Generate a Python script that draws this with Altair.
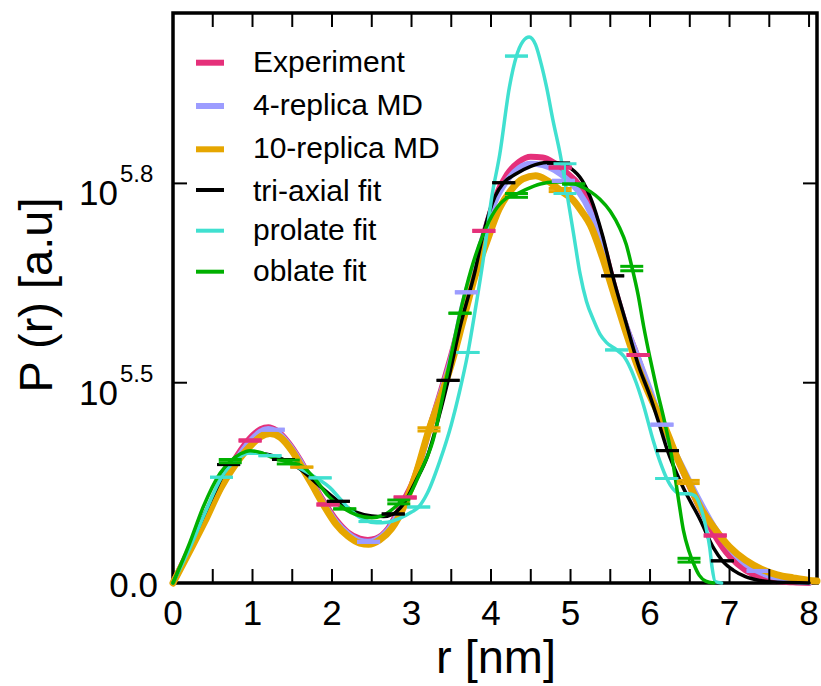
import altair as alt
import pandas as pd

# ---------------- data (y in units of 1e5 a.u.) ----------------
exp_x = [0, 0.2, 0.4, 0.6, 0.8, 1.0, 1.1, 1.2, 1.3, 1.45, 1.6, 1.75, 1.9, 2.05, 2.2, 2.35, 2.45, 2.55, 2.7, 2.85,
         2.92, 3.0, 3.1, 3.22, 3.35, 3.5, 3.65, 3.8, 3.91, 4.05, 4.2, 4.35, 4.5, 4.65, 4.8, 4.95, 5.1, 5.25, 5.4,
         5.55, 5.7, 5.85, 6.0, 6.2, 6.4, 6.6, 6.8, 7.0, 7.2, 7.4, 7.6, 7.8, 8.0]
exp_y = [0, 0.52, 1.04, 1.55, 2.0, 2.33, 2.43, 2.46, 2.41, 2.22, 1.94, 1.6, 1.28, 1.0, 0.8, 0.7, 0.68, 0.7, 0.85, 1.18,
         1.35, 1.55, 1.9, 2.42, 2.95, 3.6, 4.3, 5.0, 5.5, 6.08, 6.45, 6.65, 6.73, 6.72, 6.63, 6.48, 6.3, 6.0, 5.4,
         4.68, 4.05, 3.55, 3.0, 2.4, 1.8, 1.25, 0.78, 0.42, 0.2, 0.08, 0.03, 0.01, 0.0]

md4_x = [0, 0.2, 0.4, 0.6, 0.8, 1.0, 1.1, 1.2, 1.3, 1.45, 1.6, 1.75, 1.9, 2.05, 2.2, 2.35, 2.45, 2.55, 2.7, 2.85,
         2.92, 3.0, 3.1, 3.22, 3.35, 3.5, 3.65, 3.8, 3.91, 4.05, 4.2, 4.35, 4.5, 4.65, 4.8, 4.95, 5.1, 5.25, 5.4,
         5.55, 5.7, 5.85, 6.0, 6.15, 6.4, 6.6, 6.8, 7.0, 7.2, 7.4, 7.6, 7.8, 8.0]
md4_y = [0, 0.5, 1.0, 1.5, 1.95, 2.28, 2.39, 2.43, 2.39, 2.2, 1.92, 1.58, 1.25, 0.97, 0.78, 0.67, 0.65, 0.68, 0.83, 1.13,
         1.3, 1.5, 1.86, 2.4, 2.92, 3.55, 4.4, 5.05, 5.5, 6.02, 6.35, 6.55, 6.62, 6.6, 6.52, 6.38, 6.18, 5.85, 5.3,
         4.65, 4.05, 3.55, 3.05, 2.5, 1.85, 1.35, 0.9, 0.55, 0.3, 0.16, 0.08, 0.03, 0.01]

md10_x = [0, 0.2, 0.4, 0.6, 0.8, 1.0, 1.1, 1.22, 1.35, 1.5, 1.62, 1.75, 1.9, 2.05, 2.2, 2.35, 2.46, 2.6, 2.75, 2.9,
          3.05, 3.22, 3.35, 3.5, 3.65, 3.8, 3.95, 4.1, 4.25, 4.4, 4.56, 4.7, 4.87, 5.03, 5.15, 5.25, 5.4, 5.55,
          5.7, 5.85, 6.0, 6.2, 6.35, 6.48, 6.63, 6.8, 7.0, 7.2, 7.4, 7.6, 7.8, 8.0, 8.1]
md10_y = [0, 0.48, 0.97, 1.5, 1.9, 2.2, 2.31, 2.36, 2.3, 2.08, 1.83, 1.55, 1.22, 0.93, 0.74, 0.63, 0.61, 0.68, 0.86, 1.2,
          1.7, 2.42, 2.88, 3.45, 4.15, 4.85, 5.4, 5.9, 6.2, 6.38, 6.43, 6.36, 6.2, 6.05, 5.85, 5.65, 5.15, 4.55,
          3.95, 3.4, 2.95, 2.42, 1.95, 1.6, 1.2, 0.88, 0.57, 0.36, 0.22, 0.13, 0.08, 0.04, 0.03]

tri_x = [0, 0.2, 0.4, 0.55, 0.7, 0.85, 1.0, 1.15, 1.39, 1.6, 1.8, 2.08, 2.3, 2.5, 2.65, 2.77, 2.9, 3.05, 3.2, 3.35,
         3.46, 3.61, 3.8, 3.9, 4.05, 4.16, 4.3, 4.5, 4.7, 4.85, 5.0, 5.15, 5.25, 5.4, 5.53, 5.7, 5.85, 6.0, 6.1,
         6.22, 6.4, 6.63, 6.8, 6.91, 7.05, 7.2, 7.38, 7.6, 8.0]
tri_y = [0, 0.55, 1.1, 1.5, 1.87, 2.02, 2.07, 2.04, 1.95, 1.8, 1.58, 1.29, 1.12, 1.06, 1.05, 1.09, 1.25, 1.6, 2.0, 2.65,
         3.2, 4.04, 4.93, 5.5, 6.1, 6.32, 6.45, 6.58, 6.64, 6.63, 6.55, 6.35, 6.09, 5.5, 4.85, 4.1, 3.45, 2.95, 2.57,
         2.09, 1.55, 1.0, 0.55, 0.35, 0.2, 0.1, 0.04, 0.01, 0.0]

pro_x = [0, 0.2, 0.4, 0.61, 0.8, 0.95, 1.1, 1.22, 1.4, 1.64, 1.85, 1.97, 2.1, 2.25, 2.4, 2.56, 2.7, 2.85, 3.0, 3.09,
         3.2, 3.36, 3.5, 3.6, 3.71, 3.8, 3.9, 4.01, 4.11, 4.23, 4.32, 4.4, 4.48, 4.56, 4.63, 4.7, 4.78, 4.87, 4.95,
         5.04, 5.12, 5.2, 5.29, 5.37, 5.45, 5.58, 5.67, 5.75, 5.83, 5.92, 6.04, 6.13, 6.21, 6.3, 6.38, 6.48, 6.56,
         6.63, 6.7, 6.75, 6.78, 6.82, 6.9]
pro_y = [0, 0.52, 1.1, 1.67, 1.95, 2.05, 2.05, 2.01, 1.93, 1.78, 1.62, 1.51, 1.33, 1.13, 1.0, 0.95, 0.96, 1.02, 1.12, 1.2,
         1.42, 1.94, 2.5, 3.0, 3.64, 4.3, 5.09, 6.1, 6.77, 7.82, 8.32, 8.55, 8.62, 8.5, 8.2, 7.82, 7.3, 6.77, 6.19,
         5.5, 4.88, 4.45, 4.15, 3.93, 3.8, 3.68, 3.58, 3.4, 3.15, 2.8, 2.25, 1.9, 1.65, 1.47, 1.41, 1.41, 1.38,
         1.22, 0.9, 0.57, 0.25, 0.02, 0.0]

obl_x = [0, 0.2, 0.38, 0.59, 0.72, 0.85, 0.97, 1.1, 1.25, 1.45, 1.64, 1.8, 1.95, 2.16, 2.3, 2.5, 2.65, 2.84, 2.98,
         3.1, 3.27, 3.45, 3.61, 3.75, 3.9, 4.05, 4.2, 4.32, 4.45, 4.62, 4.8, 4.95, 5.1, 5.25, 5.37, 5.5, 5.62, 5.7,
         5.77, 5.85, 5.92, 6.0, 6.08, 6.2, 6.29, 6.36, 6.42, 6.49, 6.55, 6.62, 6.7, 6.8]
obl_y = [0, 0.6, 1.2, 1.73, 1.92, 2.04, 2.09, 2.06, 1.98, 1.91, 1.83, 1.62, 1.38, 1.17, 1.08, 1.03, 1.07, 1.25, 1.4,
         1.72, 2.25, 3.3, 4.26, 4.95, 5.5, 5.88, 6.08, 6.14, 6.22, 6.3, 6.33, 6.33, 6.28, 6.18, 6.06, 5.87, 5.6, 5.35,
         5.0, 4.55, 4.05, 3.55, 3.09, 2.45, 1.88, 1.3, 0.83, 0.5, 0.3, 0.12, 0.03, 0.0]

# error-bar markers (lo / hi)
exp_mx = [0.97, 1.95, 2.92, 3.91, 4.87, 5.85, 6.82]
exp_mlo = [2.25, 1.24, 1.35, 5.56, 6.56, 3.60, 0.75]
exp_mhi = [2.25, 1.24, 1.35, 5.56, 6.56, 3.60, 0.75]
md4_mx = [1.26, 2.46, 3.69, 4.91, 6.15, 7.36]
md4_mlo = [2.42, 0.65, 4.59, 6.35, 2.50, 0.19]
md4_mhi = [2.42, 0.65, 4.59, 6.35, 2.50, 0.19]
md10_mx = [1.62, 3.22, 4.87, 6.48]
md10_mlo = [1.83, 2.40, 6.18, 1.57]
md10_mhi = [1.83, 2.45, 6.23, 1.62]
tri_mx = [0.70, 1.39, 2.08, 2.77, 3.46, 4.16, 4.85, 5.53, 6.22, 6.91]
tri_mlo = [1.87, 1.95, 1.29, 1.09, 3.20, 6.32, 6.63, 4.85, 2.09, 0.35]
tri_mhi = [1.87, 1.95, 1.29, 1.09, 3.20, 6.32, 6.63, 4.85, 2.09, 0.35]
pro_mx = [0.61, 1.22, 1.85, 2.48, 3.09, 3.71, 4.32, 4.93, 5.58, 6.21]
pro_mlo = [1.67, 2.01, 1.66, 0.97, 1.20, 3.64, 8.32, 6.15, 3.68, 1.65]
pro_mhi = [1.67, 2.01, 1.66, 0.97, 1.20, 3.64, 8.32, 6.62, 3.68, 1.65]
obl_mx = [0.72, 1.45, 2.16, 2.84, 3.61, 4.32, 5.04, 5.77, 6.49]
obl_mlo = [1.90, 1.88, 1.17, 1.25, 4.26, 6.09, 6.30, 4.93, 0.33]
obl_mhi = [1.95, 1.94, 1.17, 1.31, 4.26, 6.15, 6.30, 5.00, 0.39]

series_names = ["Experiment", "4-replica MD", "10-replica MD", "tri-axial fit", "prolate fit", "oblate fit"]
series_colors = ["#E5307A", "#9C9CFF", "#E6A600", "#000000", "#40E0D0", "#00B000"]

x_tick_values = [0.5, 1, 1.5, 2, 2.5, 3, 3.5, 4, 4.5, 5, 5.5, 6, 6.5, 7, 7.5, 8]
x_label_values = [0, 1, 2, 3, 4, 5, 6, 7, 8]
y_exponents = ["5.5", "5.8"]

# ---------------- chart ----------------
FONT = "Liberation Sans"
W, H = 644, 570
xs = alt.Scale(domain=[0, 8.1], nice=False, zero=False)
ys = alt.Scale(domain=[0, 9.0], nice=False, zero=False)
X = lambda f: alt.X(f, type="quantitative", scale=xs, axis=None)
Y = lambda f: alt.Y(f, type="quantitative", scale=ys, axis=None)

curves = [(exp_x, exp_y, 6), (md4_x, md4_y, 6), (md10_x, md10_y, 7),
          (tri_x, tri_y, 3.5), (pro_x, pro_y, 3.5), (obl_x, obl_y, 3.5)]
markers = [(exp_mx, exp_mlo, exp_mhi, 4), (md4_mx, md4_mlo, md4_mhi, 4), (md10_mx, md10_mlo, md10_mhi, 3),
           (tri_mx, tri_mlo, tri_mhi, 3), (pro_mx, pro_mlo, pro_mhi, 3), (obl_mx, obl_mlo, obl_mhi, 3)]

layers = []
for (cx, cy, sw), col in zip(curves, series_colors):
    layers.append(alt.Chart(pd.DataFrame({"x": cx, "y": cy})).mark_line(
        color=col, strokeWidth=sw, interpolate="monotone", strokeCap="round", strokeJoin="round"
    ).encode(x=X("x"), y=Y("y")))
for (mx, mlo, mhi, mt), col in zip(markers, series_colors):
    mdf = pd.DataFrame({"x": mx + mx, "y": mlo + mhi})
    layers.append(alt.Chart(mdf).mark_tick(orient="horizontal", size=23, thickness=mt, color=col, opacity=1)
                  .encode(x=X("x"), y=Y("y")))
    edf = pd.DataFrame({"x": mx, "lo": mlo, "hi": mhi})
    layers.append(alt.Chart(edf).mark_rule(color=col, strokeWidth=2)
                  .encode(x=X("x"), y=Y("lo"), y2="hi"))

# inward ticks
tdf = pd.DataFrame({"t": x_tick_values})
layers.append(alt.Chart(tdf).mark_rule(color="black", strokeWidth=2)
              .encode(x=X("t"), y=alt.value(H), y2=alt.value(H - 14)))
layers.append(alt.Chart(tdf).mark_rule(color="black", strokeWidth=2)
              .encode(x=X("t"), y=alt.value(0), y2=alt.value(14)))
ydf = pd.DataFrame({"v": [10 ** float(e) / 1e5 for e in y_exponents], "e": y_exponents})
layers.append(alt.Chart(ydf).mark_rule(color="black", strokeWidth=2)
              .encode(y=Y("v"), x=alt.value(0), x2=alt.value(14)))
layers.append(alt.Chart(ydf).mark_rule(color="black", strokeWidth=2)
              .encode(y=Y("v"), x=alt.value(W), x2=alt.value(W - 14)))

# tick labels
ldf = pd.DataFrame({"v": x_label_values, "lab": [str(v) for v in x_label_values]})
layers.append(alt.Chart(ldf).mark_text(font=FONT, fontSize=35, align="center", baseline="alphabetic")
              .encode(x=X("v"), y=alt.value(612), text="lab:N"))
zdf = pd.DataFrame({"v": [0.0], "lab": ["0.0"]})
layers.append(alt.Chart(zdf).mark_text(font=FONT, fontSize=35, align="right", baseline="alphabetic", dy=13.5)
              .encode(y=Y("v"), x=alt.value(-15), text="lab:N"))
layers.append(alt.Chart(ydf).mark_text(font=FONT, fontSize=35, align="right", baseline="alphabetic", dy=22)
              .encode(y=Y("v"), x=alt.value(-55), text=alt.value("10")))
layers.append(alt.Chart(ydf).mark_text(font=FONT, fontSize=24, align="left", baseline="alphabetic", dy=-1)
              .encode(y=Y("v"), x=alt.value(-53), text="e:N"))

# axis titles
layers.append(alt.Chart(pd.DataFrame({"t": ["r [nm]"]})).mark_text(
    font=FONT, fontSize=47, align="center", baseline="alphabetic"
).encode(x=alt.value(323), y=alt.value(660), text="t:N"))
layers.append(alt.Chart(pd.DataFrame({"t": ["P (r) [a.u]"]})).mark_text(
    font=FONT, fontSize=47, align="center", baseline="alphabetic", angle=270
).encode(x=alt.value(-121), y=alt.value(282), text="t:N"))

# legend (inside plot, top-left)
sym_y = [49.7, 93, 136.3, 177, 217.7, 258.7]
txt_y = [58.7, 102, 145.3, 188, 227, 268]
sym_w = [6, 6, 6, 4, 4, 4]
for name, col, sy, ty, sw in zip(series_names, series_colors, sym_y, txt_y, sym_w):
    d = pd.DataFrame({"n": [name]})
    layers.append(alt.Chart(d).mark_rule(color=col, strokeWidth=sw)
                  .encode(x=alt.value(23), x2=alt.value(51), y=alt.value(sy)))
    layers.append(alt.Chart(d).mark_text(font=FONT, fontSize=30, align="left", baseline="alphabetic")
                  .encode(x=alt.value(80), y=alt.value(ty), text="n:N"))

chart = alt.layer(*layers).properties(
    width=W, height=H,
    padding={"left": 173, "top": 13, "right": 4, "bottom": 103},
    autosize=alt.AutoSizeParams(type="none"),
    background="white",
).configure_view(stroke="black", strokeWidth=3.5)

chart.save("out.html", embed_options={"renderer": "svg", "actions": False})
